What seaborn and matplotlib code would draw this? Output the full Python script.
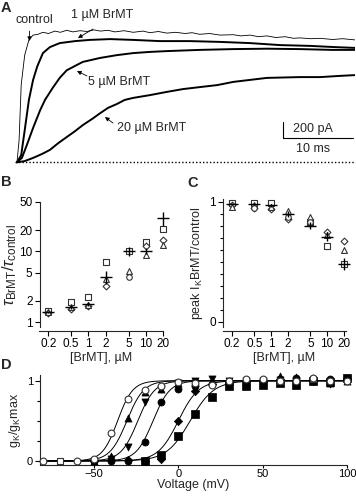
import numpy as np
import pandas as pd
import matplotlib
matplotlib.use("Agg")
import matplotlib.pyplot as plt
import seaborn as sns
from matplotlib.ticker import NullLocator, FixedLocator

nan = np.nan

## Panel A - current traces (time in ms, current in pA)
t_ctrl = [0, 0.3, 0.6, 1.1, 1.7, 2.3, 3.0, 3.7, 4.5, 5.4, 6.2, 7.1, 8.0, 9.0, 10.0, 11.0, 11.9, 13.0,
          14.0, 15.3, 16.6, 18.0, 19.0, 20.2, 21.4, 22.7, 24.0, 25.0, 26.1, 27.5, 29.0, 30.9, 32.0,
          33.3, 34.5, 35.7, 37.0, 38.3, 39.5, 40.4, 42.0, 43.3, 45.1, 46.5, 48.3]
i_ctrl = [0, 280, 970, 1340, 1530, 1590, 1600, 1625, 1610, 1640, 1625, 1650, 1630, 1645, 1635, 1655, 1640, 1650,
          1630, 1645, 1625, 1640, 1620, 1635, 1615, 1625, 1610, 1620, 1600, 1610, 1590, 1595, 1580,
          1590, 1570, 1580, 1560, 1570, 1550, 1555, 1545, 1550, 1535, 1545, 1530]

t_1um = [0, 0.6, 1.1, 1.7, 2.3, 2.9, 3.7, 4.7, 6.1, 8.3, 10.4, 13.3, 16.6, 20.4, 24.7, 29.0, 33.3, 37.6, 41.9, 45.4, 48.3]
i_1um = [0, 90, 400, 780, 1030, 1200, 1365, 1440, 1490, 1515, 1530, 1540, 1530, 1515, 1515, 1505, 1490, 1465, 1455, 1440, 1430]

t_5um = [0, 0.7, 1.4, 2.3, 3.3, 4.0, 5.1, 6.1, 7.1, 8.3, 9.4, 11.9, 14.3, 16.6, 19.0, 21.4, 26.1, 30.9, 35.7, 40.4, 45.1, 48.3]
i_5um = [0, 55, 215, 430, 650, 780, 930, 1055, 1150, 1205, 1255, 1305, 1340, 1365, 1380, 1390, 1405, 1415, 1420, 1415, 1405, 1405]

t_20um = [0, 1.1, 2.3, 3.6, 4.7, 5.9, 7.1, 8.3, 9.4, 10.7, 11.9, 13.0, 14.3, 15.4, 16.6, 19.0, 21.4, 23.7,
          26.1, 28.6, 30.9, 33.3, 35.7, 38.0, 40.4, 43.3, 46.1, 48.3]
i_20um = [0, 15, 55, 105, 155, 240, 315, 390, 465, 540, 615, 680, 730, 780, 805, 840, 880, 915,
          940, 965, 1005, 1030, 1055, 1060, 1065, 1065, 1080, 1090]

## Panels B and C - concentration series
conc = [0.2, 0.5, 1, 2, 5, 10, 20]
conc_labels = ["0.2", "0.5", "1", "2", "5", "10", "20"]

tau_sq = [1.45, 1.94, 2.24, 7.1, 10.2, 13.7, 20.5]
tau_di = [1.33, 1.55, 1.68, 3.2, nan, 12.0, 14.5]
tau_tr = [1.38, 1.62, 1.75, 4.1, 5.3, 8.8, 12.3]
tau_ci = [nan, nan, nan, nan, 4.4, nan, nan]
tau_mean = [1.4, 1.63, 1.78, 4.4, 10.0, 10.1, 29.5]
tau_err = [0.05, 0.12, 0.12, 0.9, 1.5, 1.0, 6.5]

pk_sq = [0.99, 0.99, 0.99, nan, 0.83, 0.63, 0.48]
pk_di = [0.97, 0.95, 0.94, 0.86, nan, 0.75, 0.67]
pk_tr = [0.96, 0.97, 0.96, 0.925, 0.875, 0.72, 0.60]
pk_ci = [nan, 0.95, nan, 0.87, 0.83, nan, nan]
pk_mean = [0.98, 0.98, 0.97, 0.90, 0.80, 0.71, 0.48]
pk_err = [0.011, 0.01, 0.015, 0.025, 0.03, 0.04, 0.05]

## Panel D - conductance-voltage
volt = [-80, -70, -60, -50, -40, -30, -20, -10, 0, 10, 20, 30, 40, 50, 60, 70, 80, 90, 100]
g_ctrl_o = [0.0, nan, 0.0, 0.03, 0.345, 0.77, 0.89, 0.93, 0.98, 0.97, 0.95, 1.0, 1.02, 1.02, 1.0, 1.0, 1.03, 1.0, 1.0]
g_ctrl_s = [nan, 0.0, nan, nan, nan, nan, nan, nan, nan, nan, nan, nan, nan, nan, 1.0, nan, 1.02, nan, nan]
g_up = [nan, nan, nan, 0.0, 0.06, 0.53, 0.86, 0.9, 0.97, 0.98, 1.0, 1.0, 1.0, 1.0, 1.06, 1.05, 1.03, 0.97, 1.0]
g_down = [nan, nan, nan, 0.0, 0.02, 0.17, 0.73, 0.9, 0.97, 1.0, 1.02, 1.0, 1.0, 1.0, 1.01, 1.0, 1.0, 0.96, 1.0]
g_circ = [nan, nan, nan, 0.0, 0.0, 0.0, 0.24, 0.73, 0.9, 0.93, 0.96, 0.97, 1.0, 1.01, 1.02, 1.03, 1.02, 1.02, 1.03]
g_diam = [nan, nan, nan, 0.0, 0.01, 0.01, 0.0, 0.03, 0.5, 0.87, 0.96, 0.98, 1.0, 1.0, 1.0, 1.01, 1.0, 1.0, 1.02]
g_sqr = [nan, nan, nan, nan, nan, nan, 0.0, 0.07, 0.31, 0.58, 0.8, 0.93, 0.93, 0.95, 0.97, 0.95, 1.0, 0.99, 1.03]

## Boltzmann fit parameters (V1/2, slope) for the curves
fit_vhalf = [-36, -30.5, -24, -15, 0, 7]
fit_slope = [4.5, 5, 5, 5, 6, 7]

##Style
sns.set_style("ticks")
plt.rcParams['font.family'] = ['Liberation Sans', 'DejaVu Sans']
plt.rcParams['mathtext.fontset'] = 'custom'
plt.rcParams['mathtext.rm'] = 'Liberation Sans'
plt.rcParams['mathtext.it'] = 'Liberation Sans:italic'
plt.rcParams['mathtext.bf'] = 'Liberation Sans:bold'
plt.rcParams['axes.linewidth'] = 0.8
for a in ['x', 'y']:
    plt.rcParams[a + 'tick.major.size'] = 3.5
    plt.rcParams[a + 'tick.minor.size'] = 2
    plt.rcParams[a + 'tick.major.width'] = 0.8
    plt.rcParams[a + 'tick.minor.width'] = 0.8
    plt.rcParams[a + 'tick.labelsize'] = 8.5
    plt.rcParams[a + 'tick.major.pad'] = 1.5
    plt.rcParams[a + 'tick.color'] = 'black'

W, H = 356, 499
fig = plt.figure(figsize=(W / 100, H / 100), dpi=100)

def box(x0, y0, x1, y1):
    # pixel box (top-left origin) -> figure fraction rect
    return [x0 / W, 1 - y1 / H, (x1 - x0) / W, (y1 - y0) / H]

##Panel A
axA = fig.add_axes(box(15, 14.3, 355, 166.3))
for t, i, lw in [(t_ctrl, i_ctrl, 0.6), (t_1um, i_1um, 1.4), (t_5um, i_5um, 1.4), (t_20um, i_20um, 1.4)]:
    sns.lineplot(x=t, y=i, ax=axA, color='black', lw=lw, sort=False, estimator=None)
axA.axhline(0, color='black', ls=(0, (1, 1.5)), lw=1)
axA.set_xlim(-0.286, 48.29)
axA.set_ylim(-50, 1850)
axA.axis('off')

fs = 9
arr = dict(arrowstyle='-|>', color='black', lw=0.6, mutation_scale=6, shrinkA=0, shrinkB=0)
axA.text(-0.19, 1779, "control", fontsize=fs, va='center', ha='left')
axA.annotate("", xy=(1.79, 1516), xytext=(1.79, 1640), arrowprops=arr)
axA.text(7.7, 1841, "1 µM BrMT", fontsize=fs, va='center', ha='left')
axA.annotate("", xy=(8.71, 1554), xytext=(10.86, 1666), arrowprops=arr)
axA.text(10.14, 1004, "5 µM BrMT", fontsize=fs, va='center', ha='left')
axA.annotate("", xy=(8.57, 1141), xytext=(10.0, 1079), arrowprops=arr)
axA.text(14.29, 429, "20 µM BrMT", fontsize=fs, va='center', ha='left')
axA.annotate("", xy=(12.57, 566), xytext=(13.71, 491), arrowprops=arr)
# scale bar 200 pA / 10 ms
axA.plot([38.0, 38.0, 48.0], [504, 304, 304], color='black', lw=0.8)
axA.text(39.43, 416, "200 pA", fontsize=fs, va='center', ha='left')
axA.text(42.3, 166, "10 ms", fontsize=fs, va='center', ha='center')

open_kw = dict(facecolor='white', edgecolor='#333333', linewidth=0.8, clip_on=False, zorder=3)

def conc_panel(ax, sq, di, tr, ci, mean, err):
    sns.scatterplot(x=conc, y=sq, ax=ax, marker='s', s=16, **open_kw)
    sns.scatterplot(x=conc, y=di, ax=ax, marker='D', s=12, **open_kw)
    sns.scatterplot(x=conc, y=tr, ax=ax, marker='^', s=18, **open_kw)
    sns.scatterplot(x=conc, y=ci, ax=ax, marker='o', s=16, **open_kw)
    ax.errorbar(conc, mean, yerr=err, fmt='_', color='black', ms=9, mew=1.0,
                elinewidth=1.0, capsize=0, clip_on=False, zorder=4)
    ax.set_xscale('log')
    ax.set_xticks(conc)
    ax.set_xticklabels(conc_labels)
    ax.xaxis.set_minor_locator(NullLocator())
    ax.set_xlabel("[BrMT], µM", fontsize=fs, labelpad=1)

##Panel B
axB = fig.add_axes(box(39.5, 202, 163.3, 327))
conc_panel(axB, tau_sq, tau_di, tau_tr, tau_ci, tau_mean, tau_err)
axB.set_yscale('log')
axB.set_xlim(0.141, 20)
axB.set_ylim(0.85, 50)
axB.set_yticks([1, 2, 5, 10, 20, 50])
axB.set_yticklabels(["1", "2", "5", "10", "20", "50"])
axB.yaxis.set_minor_locator(NullLocator())
axB.set_ylabel(r"$\tau_{\mathrm{BrMT}}/\tau_{\mathrm{control}}$", fontsize=12, labelpad=0.5)
sns.despine(ax=axB, offset={'bottom': 3})

##Panel C
axC = fig.add_axes(box(223, 199, 346, 327))
conc_panel(axC, pk_sq, pk_di, pk_tr, pk_ci, pk_mean, pk_err)
axC.set_xlim(0.138, 21.7)
axC.set_ylim(-0.044, 1.0225)
axC.set_yticks([0, 1])
axC.set_yticklabels(["0", "1"])
axC.yaxis.set_minor_locator(FixedLocator([0.1, 0.2, 0.3, 0.4, 0.5, 0.6, 0.7, 0.8, 0.9]))
axC.set_ylabel(r"peak I$_\mathrm{K}$BrMT/control", fontsize=fs, labelpad=3)
sns.despine(ax=axC, offset={'bottom': 3})

##Panel D
axD = fig.add_axes(box(40, 375, 347, 465))
v_fit = np.linspace(-82, 100, 400)
for vh, k in zip(fit_vhalf, fit_slope):
    sns.lineplot(x=v_fit, y=1 / (1 + np.exp((vh - v_fit) / k)), ax=axD, color='black', lw=0.7,
                 estimator=None)
filled_kw = dict(color='black', edgecolor='black', linewidth=0.5, clip_on=False, zorder=3)
sns.scatterplot(x=volt, y=g_sqr, ax=axD, marker='s', s=26, **filled_kw)
sns.scatterplot(x=volt, y=g_diam, ax=axD, marker='D', s=18, **filled_kw)
sns.scatterplot(x=volt, y=g_circ, ax=axD, marker='o', s=26, **filled_kw)
sns.scatterplot(x=volt, y=g_down, ax=axD, marker='v', s=26, **filled_kw)
sns.scatterplot(x=volt, y=g_up, ax=axD, marker='^', s=26, **filled_kw)
sns.scatterplot(x=volt, y=g_ctrl_s, ax=axD, marker='s', s=20, **open_kw)
sns.scatterplot(x=volt, y=g_ctrl_o, ax=axD, marker='o', s=24, **open_kw)
axD.set_xlim(-82, 100)
axD.set_ylim(-0.05, 1.071)
axD.set_xticks([-50, 0, 50, 100])
axD.set_yticks([0, 1])
axD.set_yticklabels(["0", "1"])
axD.yaxis.set_minor_locator(FixedLocator([0.25, 0.5, 0.75]))
axD.tick_params(axis='x', length=2.5, pad=0.5, labelsize=8)
axD.tick_params(axis='y', labelsize=8)
axD.set_xlabel("Voltage (mV)", fontsize=fs, labelpad=0)
axD.set_ylabel(r"g$_\mathrm{K}$/g$_\mathrm{K}$max", fontsize=fs, labelpad=3)
sns.despine(ax=axD)

##Panel letters
for lab, x, y in [("A", 1, 1), ("B", 1, 175), ("C", 187, 176), ("D", 1, 358)]:
    fig.text(x / W, 1 - y / H, lab, fontsize=10.5, fontweight='bold', va='top', ha='left')

fig.savefig("out.png", dpi=100)
